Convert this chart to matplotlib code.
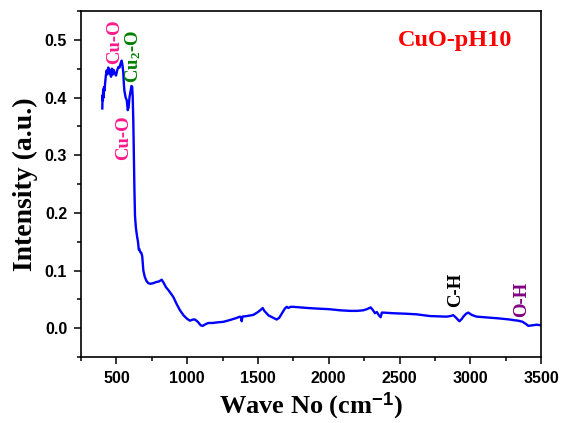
import matplotlib
matplotlib.use("Agg")
import matplotlib.pyplot as plt
from matplotlib.ticker import MultipleLocator

wavenumber = [400, 402, 404, 406, 409, 412, 416, 420, 425, 431, 436, 442, 450, 456, 462, 468, 474, 480,
              488, 497, 505, 514, 522, 530, 537, 543, 548, 552, 556, 565, 573, 580, 586, 592, 600, 606,
              611, 615, 619, 623, 627, 631, 637, 645, 652, 658, 662, 668, 675, 682, 690, 700, 712, 725,
              740, 760, 780, 800, 820, 835, 850, 867, 885, 902, 925, 949, 975, 1000, 1020, 1040, 1055,
              1075, 1095, 1110, 1130, 1150, 1180, 1210, 1255, 1300, 1340, 1373, 1380, 1385, 1390, 1420,
              1467, 1500, 1520, 1533, 1545, 1560, 1575, 1600, 1632, 1650, 1670, 1690, 1703, 1715, 1730,
              1750, 1800, 1850, 1915, 2000, 2080, 2150, 2200, 2244, 2270, 2296, 2310, 2327, 2340, 2355,
              2367, 2375, 2386, 2450, 2550, 2621, 2716, 2833, 2860, 2880, 2900, 2923, 2940, 2951, 2970,
              2986, 3010, 3045, 3100, 3200, 3280, 3304, 3339, 3370, 3395, 3410, 3440, 3470, 3500]
intensity = [0.381, 0.404, 0.395, 0.414, 0.400, 0.418, 0.412, 0.425, 0.438, 0.447, 0.440, 0.452, 0.448,
             0.440, 0.436, 0.450, 0.440, 0.448, 0.442, 0.438, 0.447, 0.453, 0.452, 0.460, 0.464, 0.455,
             0.444, 0.425, 0.412, 0.400, 0.395, 0.378, 0.383, 0.400, 0.412, 0.420, 0.419, 0.400, 0.360,
             0.300, 0.240, 0.195, 0.175, 0.160, 0.150, 0.136, 0.137, 0.132, 0.131, 0.125, 0.100, 0.089,
             0.082, 0.078, 0.077, 0.078, 0.080, 0.081, 0.084, 0.078, 0.071, 0.066, 0.060, 0.054, 0.042,
             0.031, 0.022, 0.016, 0.013, 0.015, 0.015, 0.011, 0.005, 0.004, 0.007, 0.009, 0.009, 0.010,
             0.011, 0.014, 0.017, 0.020, 0.018, 0.012, 0.020, 0.021, 0.023, 0.028, 0.032, 0.035, 0.030,
             0.026, 0.022, 0.019, 0.015, 0.018, 0.026, 0.034, 0.037, 0.035, 0.037, 0.037, 0.036, 0.035,
             0.034, 0.033, 0.031, 0.030, 0.030, 0.031, 0.033, 0.036, 0.032, 0.026, 0.028, 0.022, 0.019,
             0.027, 0.027, 0.026, 0.025, 0.024, 0.021, 0.020, 0.021, 0.0225, 0.018, 0.012, 0.016, 0.020,
             0.025, 0.027, 0.023, 0.020, 0.019, 0.017, 0.015, 0.014, 0.013, 0.011, 0.007, 0.004, 0.005,
             0.006, 0.005]

annotations = [
    ("Cu-O", 490, 0.497, "#FF1A8C"),
    ("Cu-O", 554, 0.331, "#FF1A8C"),
    ("Cu$_2$-O", 617, 0.471, "#008000"),
    ("C-H", 2899, 0.066, "black"),
    ("O-H", 3366, 0.050, "#800080"),
]
title_text = "CuO-pH10"
xlabel_text = "Wave No (cm$^{\\mathsf{-1}}$)"
ylabel_text = "Intensity (a.u.)"
xticks = [500, 1000, 1500, 2000, 2500, 3000, 3500]
yticks = [0.0, 0.1, 0.2, 0.3, 0.4, 0.5]

plt.rcParams["mathtext.fontset"] = "custom"
plt.rcParams["mathtext.rm"] = "Liberation Serif:bold"
plt.rcParams["mathtext.bf"] = "Liberation Serif:bold"
plt.rcParams["mathtext.it"] = "Liberation Serif:bold"
plt.rcParams["mathtext.sf"] = "Liberation Sans:bold"

fig = plt.figure(figsize=(5.63, 4.23), dpi=100)
ax = fig.add_axes([0.144, 0.156, 0.817, 0.818])

ax.plot(wavenumber, intensity, color="#0000FF", lw=1.7)

ax.set_xlim(250, 3500)
ax.set_ylim(-0.05, 0.55)
ax.set_xticks(xticks)
ax.set_yticks(yticks)
ax.set_yticklabels([f"{v:.1f}" for v in yticks])
ax.xaxis.set_minor_locator(MultipleLocator(250))
ax.yaxis.set_minor_locator(MultipleLocator(0.05))
ax.tick_params(which="major", direction="out", length=5, width=1.1, pad=5)
ax.tick_params(which="minor", direction="out", length=3, width=1.1)
for lab in ax.get_xticklabels() + ax.get_yticklabels():
    lab.set_fontfamily("Liberation Sans")
    lab.set_fontweight("bold")
    lab.set_fontsize(11.5)
for s in ax.spines.values():
    s.set_linewidth(1.2)

ax.set_xlabel(xlabel_text, fontfamily="Liberation Serif", fontweight="bold", fontsize=19, labelpad=3)
ax.set_ylabel(ylabel_text, fontfamily="Liberation Serif", fontweight="bold", fontsize=20, labelpad=5)

for txt, x, y, c in annotations:
    ax.text(x, y, txt, rotation=90, ha="center", va="center", color=c,
            fontfamily="Liberation Serif", fontweight="bold", fontsize=13.5)

ax.text(2892, 0.499, title_text, ha="center", va="center", color="#FF0000",
        fontfamily="Liberation Serif", fontweight="bold", fontsize=17.5)

fig.savefig("out.png", dpi=100)
